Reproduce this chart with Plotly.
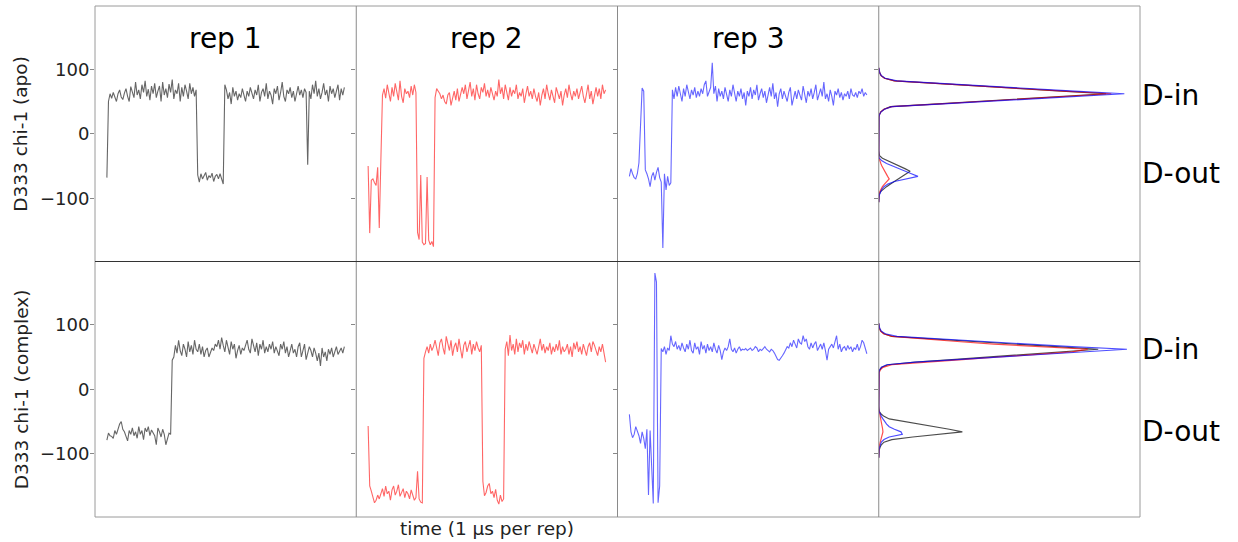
import plotly.graph_objects as go
from plotly.subplots import make_subplots

# ---------------- data ----------------
REP_TITLES = ["rep 1", "rep 2", "rep 3"]
ROW_TITLES = ["D333 chi-1 (apo)", "D333 chi-1 (complex)"]
STATE_LABELS = ["D-in", "D-out"]
Y_TICKS = [-100, 0, 100]
Y_TICK_TEXT = ["\u2212100", "0", "100"]

# chi-1 time series (degrees), one sample per frame
rep1_apo = [-68, 50,
            62, 55, 64, 58, 50, 62, 68, 57, 53, 63, 70, 58, 50, 73, 64, 56, 80, 60, 68, 54,
            76, 64, 82, 58, 69, 52, 74, 62, 78, 56, 66, 74, 50, 80, 60, 70, 56, 77, 64, 84,
            54, 68, 62, 78, 50, 72, 58, 76, 66, 54, 78, 62, 72, 58, 68,
            -64, -75, -62, -70, -66, -60, -72, -65, -68, -61, -74, -66, -63, -70, -62, -71, -78,
            76, 68, 54, 64, 46, 72, 58, 66, 52, 62, 56, 70, 60, 50, 66, 58, 72, 62, 54, 68,
            60, 76, 50, 64, 70, 58, 78, 54, 66, 60, 46, 70, 62, 74, 52, 64, 80, 58, 50, 68,
            62, 72, 56, 66, 50, 62, 74, 60, 68, 56, 70, 64,
            -48,
            66, 54, 76, 62, 82, 58, 70, 54, 64, 78, 60, 68, 50, 74, 62, 70, 56, 66, 76, 52,
            70, 60, 72]
rep2_apo = [-50, -154, -72, -70, -76, -80, -52, -146, -40, 60,
            70, 55, 76, 62, 50, 72, 58, 78, 64, 52, 82, 58, 48, 70, 62, 66, 56, 74, 60, 76, 64,
            -153, -164, -64, -168, -172, -170, -67, -165, -172, -167, -175,
            56, 70, 66, 62, 54, 60, 50, 46, 60, 64, 44, 56, 66, 52, 70, 50, 60, 72, 62, 76,
            54, 66, 80, 58, 70, 52, 76, 62, 54, 72, 64, 78, 58, 68, 56, 72, 62, 52, 66, 58,
            84, 62, 72, 54, 76, 66, 52, 72, 58, 68, 62, 76, 54, 64, 58, 70, 48, 62, 74, 58,
            66, 54, 70, 58, 50, 64, 44, 60, 70, 54, 76, 62, 52, 68, 58, 48, 72, 62, 54, 66,
            44, 60, 70, 56, 76, 62, 52, 66, 58, 70, 54, 64, 74, 58, 48, 62, 76, 54, 66, 46,
            62, 72, 58, 70, 54, 76, 62, 68]
rep3_apo = [-66, -54, -62, -68, -70, -62, -45, 30, 71, 66, -56, -62, -70, -82, -66, -60,
            -72, -60, -52, -68, -75, -177, -62, -87, -66, -80, -76,
            68, 54, 72, 58, 74, 62, 50, 70, 58, 76, 64, 54, 68, 60, 72, 56, 66, 58, 70, 62,
            76, 82, 58, 66, 72,
            110,
            62, 74, 50, 70, 58, 66, 54, 72, 60, 50, 68, 58, 76, 62, 50, 66, 58, 70, 54, 64,
            44, 66, 58, 72, 54, 68, 60, 76, 52, 62, 70, 56, 66, 48, 60, 72, 58, 78, 54, 64,
            42, 62, 70, 54, 66, 58, 50, 64, 72, 44, 58, 66, 54, 68, 60, 52, 74, 62, 48, 66,
            58, 70, 54, 64, 76, 52, 62, 70, 58, 80, 54, 62, 50, 68, 58, 44, 66, 60, 70, 56,
            64, 52, 62, 58, 66, 54, 70, 60, 58, 64, 56, 66, 62, 70, 58, 64, 60]

rep1_complex = [-79, -68, -72, -73, -76, -64, -70, -62, -54, -50, -62, -66, -74, -80, -64, -70,
                -60, -72, -66, -76, -58, -70, -64, -78, -60, -66, -58, -72, -63, -68, -72, -86,
                -60, -66, -74, -62, -70, -86, -76, -68, -70,
                45,
                50, 68, 56, 76, 60, 52, 70, 62, 50, 74, 58, 68, 54, 76, 62, 58, 70, 54, 66, 50,
                60, 64, 50, 56, 64, 60, 70, 66, 76, 62, 80, 68, 58, 76, 64, 54, 74, 62, 70, 48,
                60, 68, 54, 64, 60, 70, 76, 62, 56, 78, 66, 58, 72, 52, 70, 62, 76, 56, 66, 58,
                70, 62, 74, 56, 66, 58, 52, 70, 62, 74, 56, 66, 50, 60, 70, 56, 62, 50, 66, 72,
                50, 60, 70, 46, 58, 66, 60, 50, 64, 56, 44, 56, 36, 64, 50, 58, 44, 62, 54, 64,
                50, 58, 66, 54, 60, 64, 56, 66]
rep2_complex = [-57, -150, -158, -168, -176, -172, -164, -170, -160, -154, -166, -150, -162, -158,
                -172, -156, -150, -164, -158, -148, -166, -160, -154, -168, -158, -162, -170,
                -156, -164, -172, -168, -127, -170, -175, -176,
                48, 58, 66, 56, 70, 60, 66, 76, 62, 52, 72, 78, 64, 54, 82, 68, 60, 76, 52, 66,
                72, 58, 78, 62, 48, 68, 74, 58, 66, 76, 54, 70, 60, 74, 64, 58, 68,
                -143, -165, -160, -150, -146, -162, -158, -168, -155, -172, -178, -164, -174, -170,
                62, 74, 52, 84, 60, 70, 54, 78, 58, 72, 64, 76, 54, 70, 60, 74, 64, 56, 70, 60,
                54, 66, 78, 60, 70, 56, 66, 60, 72, 54, 66, 58, 70, 60, 76, 54, 66, 58, 62, 70,
                54, 66, 50, 72, 62, 74, 58, 66, 54, 70, 60, 52, 66, 72, 58, 74, 68, 60, 52, 66,
                58, 70, 56, 42]
rep3_complex = [-39, -66, -75, -70, -58, -66, -72, -84, -66, -76, -92, -62, -164, -64, -110,
                -177, 180, 166, -176, -150, 63,
                58, 66, 54, 64, 60, 83, 70, 66, 74, 62, 68, 60, 72, 64, 58, 70, 62, 76, 60,
                56, 72, 62, 66, 54, 74, 62, 68, 56, 70, 60, 66, 58, 72, 62, 56, 68, 60, 46, 58,
                64, 60,
                66, 78, 62, 58, 64, 56, 62, 66, 60, 62, 61, 63, 60, 62, 64, 60, 62, 66, 64, 58,
                62, 60, 64, 66, 62, 60, 58, 62, 60,
                56, 50, 46, 45, 48, 52, 56, 60, 66,
                64, 72, 66, 76, 70, 64, 78, 72, 70, 83, 74, 78, 66, 62, 72, 64,
                70, 74, 60, 66, 70, 62, 72, 60, 45, 62, 66, 70, 64, 72,
                83, 62, 70, 58, 64, 66, 60, 68, 62, 66, 58, 64, 62, 70, 60, 66, 76, 72, 62, 55]

# chi-1 distributions (density, arbitrary units) on angle bins
ANGLE_BINS = [-106, -102, -98, -94, -90, -86, -82, -78, -74, -70, -66, -62, -58, -54, -50,
              -46, -42, -38, -34, -30, -26, -22, -18, -14, -10, -6, -2, 2, 6, 10, 14, 18,
              22, 26, 30, 34, 38, 42, 46, 50, 54, 58, 62, 66, 70, 74, 78, 82, 86, 90, 94, 98, 102]
_Z = [0] * 14
dens_apo_rep1 = ([0, 0, 0, 0.002, 0.006, 0.017, 0.03, 0.045, 0.06, 0.075, 0.09, 0.105, 0.12,
                  0.1, 0.078, 0.056, 0.034, 0.014, 0.003] + _Z +
                 [0.001, 0.003, 0.008, 0.02, 0.045, 0.21, 0.38, 0.54, 0.70, 0.87, 0.70, 0.53,
                  0.37, 0.21, 0.06, 0.022, 0.009, 0.004, 0.001, 0])
dens_apo_rep2 = ([0, 0, 0, 0.002, 0.004, 0.008, 0.014, 0.022, 0.03, 0.04, 0.034, 0.028, 0.022,
                  0.016, 0.012, 0.008, 0.004, 0.001, 0] + _Z +
                 [0.001, 0.003, 0.008, 0.02, 0.05, 0.22, 0.39, 0.55, 0.72, 0.89, 0.71, 0.54,
                  0.37, 0.21, 0.06, 0.022, 0.009, 0.004, 0.001, 0])
dens_apo_rep3 = ([0, 0, 0.001, 0.003, 0.006, 0.012, 0.02, 0.035, 0.06, 0.1, 0.15, 0.125, 0.1,
                  0.075, 0.05, 0.03, 0.012, 0.002, 0] + _Z +
                 [0.001, 0.003, 0.009, 0.022, 0.05, 0.23, 0.41, 0.58, 0.76, 0.94, 0.75, 0.57,
                  0.40, 0.23, 0.07, 0.025, 0.01, 0.004, 0.001, 0])
dens_cpx_rep1 = ([0, 0, 0.001, 0.002, 0.005, 0.01, 0.02, 0.05, 0.13, 0.22, 0.32, 0.27, 0.21,
                  0.15, 0.09, 0.04, 0.02, 0.008, 0.002] + _Z +
                 [0.001, 0.004, 0.012, 0.035, 0.14, 0.28, 0.42, 0.56, 0.70, 0.84, 0.68, 0.52,
                  0.36, 0.20, 0.05, 0.02, 0.008, 0.003, 0.001, 0])
dens_cpx_rep2 = ([0, 0, 0, 0.001, 0.002, 0.003, 0.005, 0.008, 0.011, 0.014, 0.016, 0.015, 0.013,
                  0.011, 0.009, 0.007, 0.005, 0.002, 0] + _Z +
                 [0.002, 0.006, 0.016, 0.05, 0.17, 0.32, 0.46, 0.60, 0.74, 0.80, 0.60, 0.44,
                  0.30, 0.17, 0.05, 0.018, 0.007, 0.003, 0.001, 0])
dens_cpx_rep3 = ([0, 0, 0, 0.001, 0.003, 0.006, 0.01, 0.02, 0.04, 0.09, 0.085, 0.06, 0.04,
                  0.03, 0.022, 0.016, 0.01, 0.005, 0.001] + _Z +
                 [0.001, 0.003, 0.01, 0.03, 0.14, 0.30, 0.46, 0.62, 0.78, 0.95, 0.74, 0.56,
                  0.40, 0.24, 0.07, 0.025, 0.01, 0.004, 0.0015, 0])

TS_COLORS = ["rgba(0,0,0,0.6)", "rgba(255,0,0,0.6)", "rgba(0,0,255,0.6)"]
HIST_COLORS = ["rgba(0,0,0,0.7)", "rgba(255,0,0,0.7)", "rgba(0,0,255,0.7)"]

ROWS_TS = [[rep1_apo, rep2_apo, rep3_apo], [rep1_complex, rep2_complex, rep3_complex]]
ROWS_HIST = [[dens_apo_rep1, dens_apo_rep2, dens_apo_rep3],
             [dens_cpx_rep1, dens_cpx_rep2, dens_cpx_rep3]]

FONT = "DejaVu Sans"

fig = make_subplots(rows=2, cols=4, horizontal_spacing=0, vertical_spacing=0)

for r in range(2):
    for c in range(3):
        ys = ROWS_TS[r][c]
        n = len(ys)
        fig.add_trace(go.Scatter(x=list(range(n)), y=ys, mode="lines",
                                 line=dict(color=TS_COLORS[c], width=1.1),
                                 showlegend=False, hoverinfo="skip"),
                      row=r + 1, col=c + 1)
        fig.update_xaxes(range=[-0.05 * (n - 1), 1.05 * (n - 1)], row=r + 1, col=c + 1)
    for c in range(3):
        fig.add_trace(go.Scatter(x=ROWS_HIST[r][c], y=ANGLE_BINS, mode="lines",
                                 line=dict(color=HIST_COLORS[c], width=1.2),
                                 showlegend=False, hoverinfo="skip"),
                      row=r + 1, col=4)
    fig.update_xaxes(range=[0, 1.0], row=r + 1, col=4)

fig.update_xaxes(showticklabels=False, ticks="", showgrid=False, zeroline=False, showline=False)
fig.update_yaxes(range=[-198, 198], tickvals=Y_TICKS, ticktext=Y_TICK_TEXT, ticks="outside",
                 ticklen=4, tickcolor="#888", tickwidth=1, showgrid=False, zeroline=False,
                 showline=False, ticklabelstandoff=-3,
                 tickfont=dict(family=FONT, size=18, color="#222"))
for r in (1, 2):
    for c in (2, 3, 4):
        fig.update_yaxes(showticklabels=False, row=r, col=c)

annotations = []
for c, t in enumerate(REP_TITLES):
    annotations.append(dict(text=t, xref="x%s domain" % ("" if c == 0 else c + 1), x=0.5,
                            yref="paper", y=(517 - 38) / 511, xanchor="center", yanchor="middle",
                            showarrow=False, font=dict(family=FONT, size=28, color="black")))
label_y = [[(517 - 95) / 511, (517 - 173) / 511], [(517 - 349) / 511, (517 - 431) / 511]]
for r in range(2):
    for k, lab in enumerate(STATE_LABELS):
        annotations.append(dict(text=lab, xref="paper", x=(1140 - 95) / 1045, yref="paper",
                                y=label_y[r][k], xanchor="left", yanchor="middle",
                                showarrow=False, font=dict(family=FONT, size=28, color="black")))
for r, t in enumerate(ROW_TITLES):
    annotations.append(dict(text=t, xref="paper", x=(21 - 95) / 1045, yref="paper",
                            y=0.75 - 0.5 * r, xanchor="center", yanchor="middle", textangle=-90,
                            showarrow=False, font=dict(family=FONT, size=18.5, color="#222")))
annotations.append(dict(text="time (1 \u00b5s per rep)", xref="paper", x=(487 - 95) / 1045,
                        yref="paper", y=(517 - 528) / 511, xanchor="center", yanchor="middle",
                        showarrow=False, font=dict(family=FONT, size=18.5, color="#222")))

shapes = [dict(type="rect", xref="paper", yref="paper", x0=0, x1=1, y0=0, y1=1,
               line=dict(color="#9a9a9a", width=1), layer="above")]
for xv in (0.25, 0.5, 0.75):
    shapes.append(dict(type="line", xref="paper", yref="paper", x0=xv, x1=xv, y0=0, y1=1,
                       line=dict(color="#8a8a8a", width=1), layer="above"))
shapes.append(dict(type="line", xref="paper", yref="paper", x0=0, x1=1, y0=0.5, y1=0.5,
                   line=dict(color="#333", width=1), layer="above"))

fig.update_layout(width=1238, height=542, margin=dict(l=95, r=98, t=6, b=25),
                  plot_bgcolor="white", paper_bgcolor="white", template="none",
                  annotations=annotations, shapes=shapes, showlegend=False,
                  font=dict(family=FONT))

fig.write_html("out.html", config={"displayModeBar": False},
               post_script="document.body.style.margin='0';document.body.style.padding='0';")
